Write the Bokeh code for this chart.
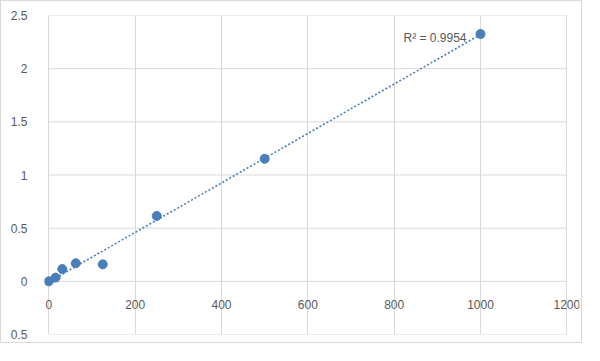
import numpy as np
from bokeh.plotting import figure
from bokeh.models import Range1d, FixedTicker, ColumnDataSource, LabelSet
from bokeh.core.properties import value
from bokeh.embed import file_html
from bokeh.resources import INLINE

# data
conc = [0, 15.6, 31.25, 62.5, 125, 250, 500, 1000]
od = [0.0, 0.035, 0.115, 0.170, 0.160, 0.615, 1.152, 2.326]
x_ticks = [0, 200, 400, 600, 800, 1000, 1200]
x_labels = ["0", "200", "400", "600", "800", "1000", "1200"]
y_ticks = [-0.5, 0.0, 0.5, 1.0, 1.5, 2.0, 2.5]
y_labels = ["0.5", "0", "0.5", "1", "1.5", "2", "2.5"]
r2_label = "R\u00b2 = 0.9954"

BLUE = "#4a7ebb"
GRID = "#d9d9d9"
LABEL = "#595959"
FONT = "Liberation Sans"

# a little room either side of 0..1200 so the crossing axis labels are not clipped
p = figure(width=582, height=343, output_backend="svg", toolbar_location=None,
           x_range=Range1d(-10, 1229.3), y_range=Range1d(-0.5, 2.5))
p.styles = {"border": "1px solid #d9d9d9"}
p.min_border_left = 43
p.min_border_right = 4
p.min_border_top = 14
p.min_border_bottom = 10
p.outline_line_color = None
p.background_fill_color = "white"
p.border_fill_color = "white"

# x axis crosses at y = 0, as in the reference
xax = p.xaxis[0]
xax.fixed_location = 0
xax.ticker = FixedTicker(ticks=x_ticks)
xax.major_label_overrides = {t: l for t, l in zip(x_ticks, x_labels)}
xax.axis_line_color = None
xax.major_tick_line_color = None
xax.minor_tick_line_color = None
xax.major_label_standoff = 13
xax.major_label_text_font = FONT
xax.major_label_text_font_size = "12px"
xax.major_label_text_color = LABEL

# vertical grid from the grid, horizontal grid limited to the 0..1200 plot area
p.xgrid.ticker = FixedTicker(ticks=x_ticks)
p.xgrid.grid_line_color = GRID
p.ygrid.grid_line_color = None
p.segment(x0=[x_ticks[0]] * len(y_ticks), x1=[x_ticks[-1]] * len(y_ticks),
          y0=y_ticks, y1=y_ticks, line_color=GRID, line_width=1)

yax = p.yaxis[0]
yax.ticker = FixedTicker(ticks=y_ticks)
yax.major_label_overrides = {t: l for t, l in zip(y_ticks, y_labels)}
yax.axis_line_color = None
yax.major_tick_line_color = None
yax.minor_tick_line_color = None
yax.major_label_standoff = 11
yax.major_label_text_font = FONT
yax.major_label_text_font_size = "12px"
yax.major_label_text_color = LABEL

# linear trendline
slope, icpt = np.polyfit(conc, od, 1)
tx = np.array([min(conc), max(conc)])
p.line(tx, slope * tx + icpt, line_color=BLUE, line_width=1.6, line_dash="2 2")

p.scatter(conc, od, size=9, fill_color=BLUE, line_color=BLUE)

r2 = ColumnDataSource(dict(x=[conc[-1]], y=[od[-1]], t=[r2_label]))
p.add_layout(LabelSet(x="x", y="y", text="t", source=r2, text_align="right",
                      text_baseline="middle", x_offset=-14, y_offset=-4,
                      text_font=value(FONT), text_font_size="12px", text_color=LABEL))

open("out.html", "w").write(file_html(p, INLINE))
